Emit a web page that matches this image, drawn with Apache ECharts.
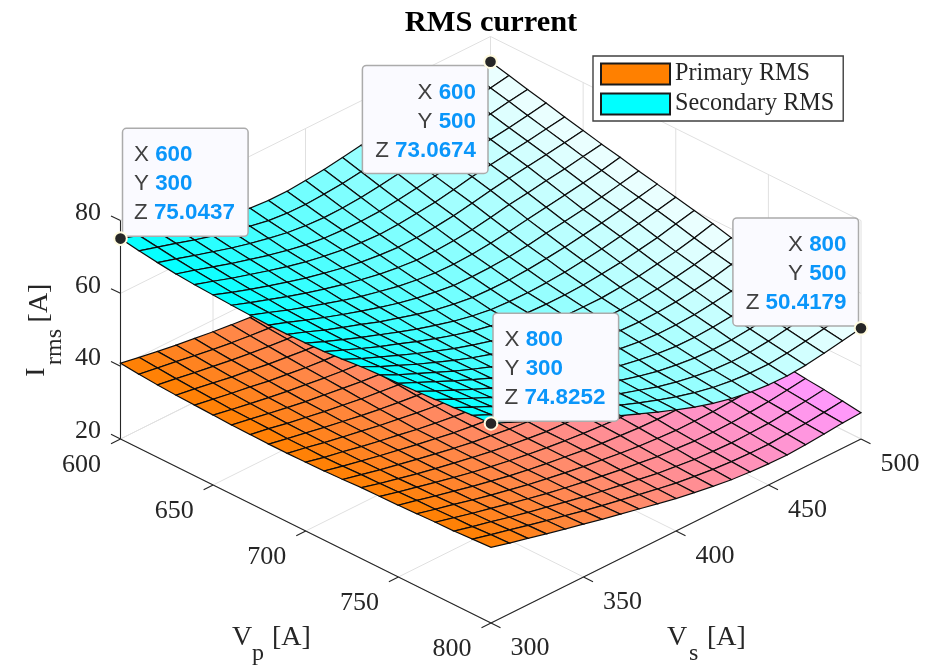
<!DOCTYPE html>
<html><head><meta charset="utf-8"><style>html,body{margin:0;padding:0;background:#fff}#c{width:933px;height:665px}</style>
<script src="https://cdn.jsdelivr.net/npm/echarts@6/dist/echarts.min.js"></script></head>
<body><div id="c"></div><script>
const vpValues=[600,610,620,630,640,650,660,670,680,690,700,710,720,730,740,750,760,770,780,790,800];
const vsValues=[300,310,320,330,340,350,360,370,380,390,400,410,420,430,440,450,460,470,480,490,500];
const zTicks=[20,40,60,80];
const vpTicks=[600,650,700,750,800];
const vsTicks=[300,350,400,450,500];
// rows: Vp, columns: Vs
const secondaryRms=[
[75.0437,73.4,71.9,70.4,69.0,67.7,66.6,65.7,65.3,65.3,65.7,66.2,67.0,67.8,68.5,69.2,70.0,70.7,71.4,72.2,73.0674],
[74.2,72.7,71.2,69.6,68.2,66.9,65.8,64.8,64.3,64.2,64.5,64.9,65.6,66.4,67.1,67.9,68.7,69.4,70.1,70.9,71.8],
[73.5,72.0,70.4,68.9,67.4,66.1,65.0,64.0,63.4,63.1,63.2,63.6,64.2,65.0,65.7,66.6,67.4,68.1,68.8,69.7,70.5],
[72.9,71.4,69.8,68.2,66.8,65.4,64.2,63.2,62.5,62.2,62.1,62.3,62.9,63.6,64.4,65.3,66.2,66.9,67.6,68.4,69.3],
[72.5,70.9,69.2,67.7,66.2,64.8,63.6,62.6,61.8,61.3,61.0,61.2,61.7,62.3,63.2,64.2,65.0,65.7,66.4,67.2,68.0],
[72.2,70.4,68.7,67.1,65.6,64.2,63.0,61.9,61.0,60.4,60.0,60.1,60.5,61.1,62.0,63.0,63.8,64.5,65.2,66.0,66.8],
[71.9,70.1,68.4,66.7,65.1,63.7,62.4,61.2,60.2,59.5,59.0,59.0,59.3,59.8,60.6,61.6,62.3,63.1,63.8,64.7,65.6],
[71.7,69.9,68.0,66.3,64.7,63.1,61.7,60.5,59.4,58.6,58.0,57.9,58.1,58.6,59.3,60.1,60.9,61.7,62.5,63.4,64.5],
[71.5,69.7,67.8,66.0,64.3,62.7,61.2,59.8,58.7,57.8,57.1,57.0,57.1,57.4,58.0,58.8,59.5,60.3,61.2,62.2,63.3],
[71.5,69.6,67.6,65.8,64.1,62.3,60.8,59.3,58.0,57.0,56.3,56.1,56.1,56.4,56.9,57.5,58.3,59.1,60.1,61.1,62.2],
[71.6,69.5,67.5,65.6,63.8,62.0,60.3,58.8,57.4,56.3,55.5,55.2,55.1,55.3,55.7,56.3,57.0,57.9,58.9,60.0,61.1],
[71.8,69.7,67.6,65.6,63.8,61.9,60.2,58.6,57.2,56.1,55.2,54.7,54.5,54.5,54.7,55.2,55.8,56.7,57.6,58.8,60.0],
[72.2,69.9,67.8,65.7,63.7,61.8,60.0,58.4,57.0,55.8,54.9,54.2,53.8,53.7,53.7,54.1,54.6,55.4,56.3,57.5,58.9],
[72.7,70.2,68.0,65.8,63.8,61.8,60.0,58.4,56.9,55.7,54.6,53.9,53.3,52.9,52.9,53.1,53.6,54.3,55.2,56.3,57.6],
[73.0,70.5,68.3,66.1,63.9,61.9,60.0,58.4,56.9,55.6,54.5,53.6,52.8,52.3,52.1,52.2,52.6,53.3,54.1,55.3,56.5],
[73.2,70.9,68.6,66.3,64.1,62.0,60.1,58.4,56.9,55.6,54.4,53.3,52.4,51.7,51.3,51.3,51.6,52.2,53.0,54.2,55.5],
[73.5,71.1,68.8,66.5,64.3,62.2,60.3,58.5,56.9,55.4,54.1,52.8,51.8,51.0,50.5,50.4,50.7,51.2,52.0,53.2,54.5],
[73.8,71.4,69.1,66.8,64.6,62.4,60.4,58.6,56.9,55.3,53.8,52.4,51.2,50.4,49.8,49.6,49.7,50.2,51.0,52.1,53.4],
[74.1,71.7,69.4,67.1,64.9,62.8,60.7,58.7,56.9,55.2,53.6,52.0,50.8,49.8,49.1,48.8,48.9,49.4,50.2,51.2,52.4],
[74.5,72.2,69.9,67.6,65.4,63.2,61.0,59.0,57.1,55.2,53.4,51.8,50.4,49.3,48.6,48.2,48.1,48.6,49.4,50.3,51.4],
[74.8252,72.6,70.3,68.0,65.8,63.6,61.4,59.3,57.2,55.2,53.3,51.5,50.0,48.8,48.0,47.5,47.4,47.8,48.6,49.5,50.4179]];
const primaryRms=[
[40.8,39.9,39.0,38.2,37.5,36.8,36.2,35.7,35.5,35.5,35.7,35.9,36.4,36.8,37.2,37.6,38.0,38.4,38.8,39.2,39.7],
[40.3,39.5,38.7,37.8,37.0,36.3,35.7,35.2,34.9,34.9,35.0,35.2,35.6,36.1,36.4,36.9,37.3,37.7,38.1,38.5,39.0],
[39.9,39.1,38.2,37.4,36.6,35.9,35.3,34.8,34.4,34.3,34.3,34.5,34.9,35.3,35.7,36.2,36.6,37.0,37.4,37.8,38.3],
[39.6,38.8,37.9,37.0,36.3,35.5,34.9,34.3,33.9,33.8,33.7,33.8,34.2,34.5,35.0,35.5,35.9,36.3,36.7,37.1,37.6],
[39.4,38.5,37.6,36.8,35.9,35.2,34.5,34.0,33.6,33.3,33.1,33.2,33.5,33.8,34.3,34.9,35.3,35.7,36.1,36.5,36.9],
[39.2,38.2,37.3,36.4,35.6,34.9,34.2,33.6,33.1,32.8,32.6,32.6,32.9,33.2,33.7,34.2,34.6,35.0,35.4,35.8,36.3],
[39.0,38.1,37.1,36.2,35.3,34.6,33.9,33.2,32.7,32.3,32.0,32.0,32.2,32.5,32.9,33.4,33.8,34.3,34.6,35.1,35.6],
[38.9,38.0,36.9,36.0,35.1,34.3,33.5,32.9,32.3,31.8,31.5,31.4,31.5,31.8,32.2,32.6,33.1,33.5,33.9,34.4,35.0],
[38.8,37.8,36.8,35.8,34.9,34.0,33.2,32.5,31.9,31.4,31.0,31.0,31.0,31.2,31.5,31.9,32.3,32.7,33.2,33.8,34.4],
[38.8,37.8,36.7,35.7,34.8,33.8,33.0,32.2,31.5,31.0,30.6,30.5,30.5,30.6,30.9,31.2,31.7,32.1,32.6,33.2,33.8],
[38.9,37.7,36.7,35.6,34.6,33.7,32.7,31.9,31.2,30.6,30.1,30.0,29.9,30.0,30.2,30.6,31.0,31.4,32.0,32.6,33.2],
[39.0,37.8,36.7,35.6,34.6,33.6,32.7,31.8,31.1,30.5,30.0,29.7,29.6,29.6,29.7,30.0,30.3,30.8,31.3,31.9,32.6],
[39.2,38.0,36.8,35.7,34.6,33.6,32.6,31.7,31.0,30.3,29.8,29.4,29.2,29.2,29.2,29.4,29.6,30.1,30.6,31.2,32.0],
[39.5,38.1,36.9,35.7,34.6,33.6,32.6,31.7,30.9,30.2,29.6,29.3,28.9,28.7,28.7,28.8,29.1,29.5,30.0,30.6,31.3],
[39.6,38.3,37.1,35.9,34.7,33.6,32.6,31.7,30.9,30.2,29.6,29.1,28.7,28.4,28.3,28.3,28.6,28.9,29.4,30.0,30.7],
[39.7,38.5,37.2,36.0,34.8,33.7,32.6,31.7,30.9,30.2,29.5,28.9,28.5,28.1,27.9,27.9,28.0,28.3,28.8,29.4,30.1],
[39.9,38.6,37.4,36.1,34.9,33.8,32.7,31.8,30.9,30.1,29.4,28.7,28.1,27.7,27.4,27.4,27.5,27.8,28.2,28.9,29.6],
[40.1,38.8,37.5,36.3,35.1,33.9,32.8,31.8,30.9,30.0,29.2,28.5,27.8,27.4,27.0,26.9,27.0,27.3,27.7,28.3,29.0],
[40.2,38.9,37.7,36.4,35.2,34.1,33.0,31.9,30.9,30.0,29.1,28.2,27.6,27.0,26.7,26.5,26.6,26.8,27.3,27.8,28.5],
[40.5,39.2,38.0,36.7,35.5,34.3,33.1,32.0,31.0,30.0,29.0,28.1,27.4,26.8,26.4,26.2,26.1,26.4,26.8,27.3,27.9],
[40.8,39.4,38.2,36.9,35.7,34.5,33.3,32.2,31.1,30.0,28.9,28.0,27.2,26.5,26.1,25.8,25.7,26.0,26.4,26.9,27.2]];
const tipVp=[600,600,800,800];
const tipVs=[300,500,500,300];
const tipZ=[75.0437,73.0674,50.4179,74.8252];

const VP0=600,VP1=800,VS0=300,VS1=500,Z0=20,Z1=80;
const SERIF='"Liberation Serif","Times New Roman",serif', INK='#262626', GRIDC='#e0e0e0';
function proj(vp,vs,z){return [(vp-VP0)*1.8525+(vs-VS0)*1.85, z-((vp-VP0)+(VS1-vs))*0.2528];}
function lerp(a,b,t){return Math.round(a+(b-a)*t);}
function surfFill(kind,t){return kind==='p'?`rgb(255,${lerp(128,153,t)},${lerp(0,255,t)})`:`rgb(${lerp(0,240,t)},255,255)`;}
const cells=[];
for(let i=0;i<vpValues.length-1;i++)for(let j=vsValues.length-2;j>=0;j--)cells.push([i,j]);
function surface(name,Z,kind,fill,zl){
  return {name,type:'custom',coordinateSystem:'cartesian2d',clip:false,silent:true,z:zl,data:cells,
    itemStyle:{color:fill,borderColor:'#1a1a1a',borderWidth:1},
    renderItem(p,api){const i=api.value(0),j=api.value(1);
      const c=[[i,j],[i+1,j],[i+1,j+1],[i,j+1]].map(q=>api.coord(proj(vpValues[q[0]],vsValues[q[1]],Z[q[0]][q[1]])));
      return {type:'polygon',shape:{points:c},style:{fill:surfFill(kind,(j+0.5)/(vsValues.length-1)),stroke:'#0d0d0d',lineWidth:1.2}};}};
}
function seg(api,a,b,color,w){const p=api.coord(proj(...a)),q=api.coord(proj(...b));
  return {type:'line',shape:{x1:p[0],y1:p[1],x2:q[0],y2:q[1]},style:{stroke:color,lineWidth:w}};}
function label(api,pt,dx,dy,t,align){const p=api.coord(proj(...pt));
  return {type:'text',style:{x:p[0]+dx,y:p[1]+dy,text:String(t),fontFamily:SERIF,fontSize:26,fill:INK,align:align,verticalAlign:'middle'}};}
const frame={type:'custom',coordinateSystem:'cartesian2d',clip:false,silent:true,z:1,data:[[0,0]],
  renderItem(p,api){const ch=[];
    vpTicks.forEach(v=>{ch.push(seg(api,[v,VS0,Z0],[v,VS1,Z0],GRIDC,1),seg(api,[v,VS1,Z0],[v,VS1,Z1],GRIDC,1));});
    vsTicks.forEach(v=>{ch.push(seg(api,[VP1,v,Z0],[VP0,v,Z0],GRIDC,1),seg(api,[VP0,v,Z0],[VP0,v,Z1],GRIDC,1));});
    zTicks.forEach(v=>{ch.push(seg(api,[VP0,VS0,v],[VP0,VS1,v],GRIDC,1),seg(api,[VP0,VS1,v],[VP1,VS1,v],GRIDC,1));});
    ch.push(seg(api,[VP0,VS0,Z0],[VP0,VS0,Z1],INK,1.1),seg(api,[VP0,VS0,Z0],[VP1,VS0,Z0],INK,1.1),seg(api,[VP1,VS0,Z0],[VP1,VS1,Z0],INK,1.1));
    const tick=(pt,dx,dy)=>{const c=api.coord(proj(...pt));return {type:'line',shape:{x1:c[0],y1:c[1],x2:c[0]+dx,y2:c[1]+dy},style:{stroke:INK,lineWidth:1.1}};};
    zTicks.forEach(v=>{ch.push(tick([VP0,VS0,v],-9.5,-4.6),label(api,[VP0,VS0,v],-19.5,-7.5,v,'right'));});
    vpTicks.forEach(v=>{ch.push(tick([v,VS0,Z0],-9.5,4.7),label(api,[v,VS0,Z0],-39,26,v,'center'));});
    vsTicks.forEach(v=>{ch.push(tick([VP1,v,Z0],9.5,4.7),label(api,[VP1,v,Z0],39,25,v,'center'));});
    return {type:'group',children:ch};}};
// tip box placement relative to its marker: [horizontal side, vertical side]
const tipSide=[['r','u'],['l','d'],['l','u'],['r','u']];
const BW=125.6,BH=108;
const tips={type:'custom',coordinateSystem:'cartesian2d',clip:false,silent:true,z:10,data:tipVp.map((v,i)=>[i,0]),
  renderItem(p,api){const i=api.value(0),m=api.coord(proj(tipVp[i],tipVs[i],tipZ[i]));
    const s=tipSide[i],bx=s[0]==='r'?m[0]+2:m[0]-BW-2.5,by=s[1]==='u'?m[1]-BH-2.3:m[1]+3.7;
    const rich={k:{fontFamily:'"Liberation Sans",Arial,sans-serif',fontSize:22.4,fill:'#404040',lineHeight:29},
                v:{fontFamily:'"Liberation Sans",Arial,sans-serif',fontSize:22.4,fontWeight:'bold',fill:'#0a96fa',lineHeight:29}};
    const right=s[0]==='l';
    const txt=`{k|X }{v|${tipVp[i]}}\n{k|Y }{v|${tipVs[i]}}\n{k|Z }{v|${tipZ[i].toFixed(4)}}`;
    return {type:'group',children:[
      {type:'rect',shape:{x:bx,y:by,width:BW,height:BH,r:4},style:{fill:'#fafaff',stroke:'#ababab',lineWidth:1.5}},
      {type:'text',style:{x:right?bx+BW-12:bx+11.5,y:by+12.5,text:txt,rich,align:right?'right':'left',verticalAlign:'top'}},
      {type:'circle',shape:{cx:m[0],cy:m[1],r:6.3},style:{fill:'#262626',stroke:'#fffbe0',lineWidth:2}}]};}};
function gtext(x,y,t,size,rot,align){return {type:'text',x,y,rotation:rot||0,z:20,silent:true,
  style:{text:t,fontFamily:SERIF,fontSize:size,fill:INK,align:align||'left',verticalAlign:'middle'}};}
const chart=echarts.init(document.getElementById('c'),null,{renderer:'canvas'});
chart.setOption({animation:false,
  title:{text:'RMS current',left:486,top:3,textAlign:'center',textStyle:{fontFamily:SERIF,fontSize:30.4,fontWeight:'bold',color:'#000'}},
  grid:{left:0,top:0,width:933,height:665,containLabel:false},
  xAxis:{type:'value',show:false,min:-120.5,max:812.5},
  yAxis:{type:'value',show:false,min:-92.66,max:90.03},
  legend:{show:true,left:593,top:56,orient:'vertical',selectedMode:false,data:['Primary RMS','Secondary RMS'],icon:'rect',
    itemWidth:69,itemHeight:21,itemGap:6,padding:[6,9,5,7],backgroundColor:'#fff',borderColor:'#404040',borderWidth:1.4,z:15,
    textStyle:{fontFamily:SERIF,fontSize:24.2,lineHeight:22,height:22,color:INK}},
  series:[frame,surface('Primary RMS',primaryRms,'p','#ff8000',3),surface('Secondary RMS',secondaryRms,'s','#00ffff',4),tips],
  graphic:{elements:[
    gtext(232,638,'V',28),gtext(252,654,'p',24),gtext(272,638,'[A]',28),
    gtext(667,638,'V',28),gtext(689,654,'s',24),gtext(707,638,'[A]',28),
    gtext(37,372,'I',28,Math.PI/2,'center'),gtext(55,347,'rms',24,Math.PI/2,'center'),gtext(39.5,303,'[A]',28,Math.PI/2,'center')]}
});
</script></body></html>
